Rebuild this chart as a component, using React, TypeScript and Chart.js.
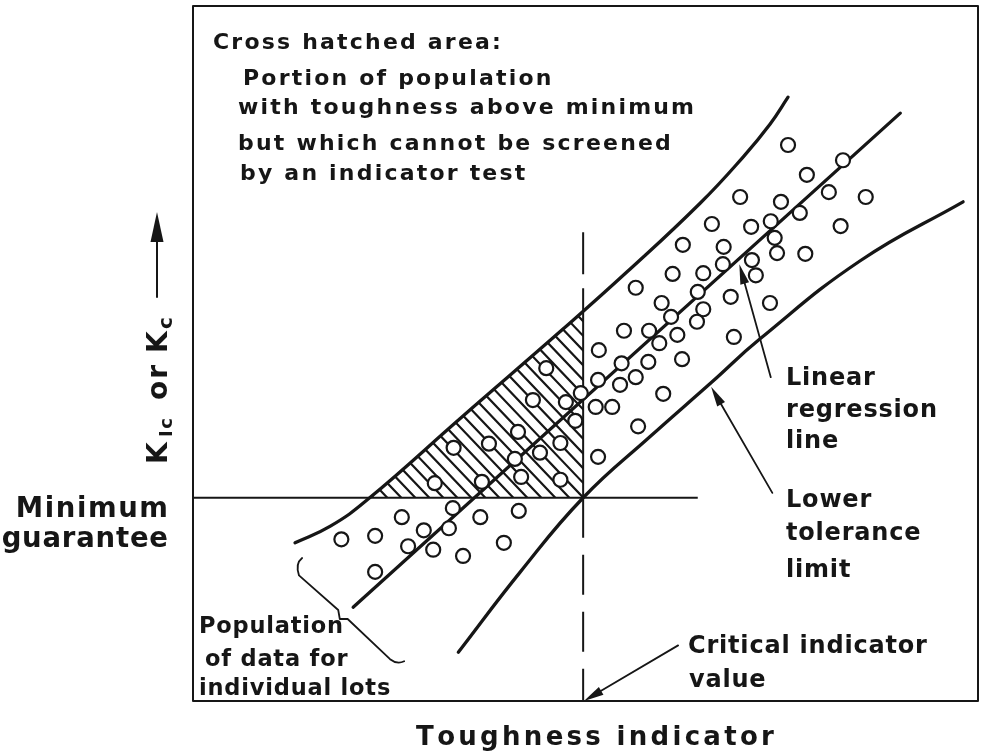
import React, { useEffect, useRef } from 'react';
import { Chart, registerables } from 'chart.js';

Chart.register(...registerables);

// ---- Data (normalised units: x = toughness indicator 0..100, y = K 0..100) ----
const POINT_X = [75.8, 82.8, 78.2, 81.0, 85.7, 69.7, 74.9, 77.3, 73.6, 71.1, 66.1, 82.5, 74.1, 74.4, 78.0, 62.4, 67.6, 67.5, 71.2, 71.7, 61.1, 65.0, 64.3, 56.4, 68.5, 73.5, 59.7, 60.9, 65.0, 64.2, 54.9, 58.1, 61.7, 59.4, 68.9, 51.7, 54.6, 58.0, 62.3, 51.6, 56.4, 54.4, 59.9, 49.4, 47.5, 51.3, 53.4, 48.7, 56.7, 46.8, 51.6, 45.0, 43.3, 41.4, 37.7, 33.2, 44.2, 41.0, 41.8, 46.8, 36.8, 30.8, 33.1, 36.6, 41.5, 26.6, 18.9, 23.2, 29.4, 32.6, 27.4, 30.6, 34.4, 39.6, 23.2];
const POINT_Y = [79.8, 77.6, 75.5, 73.0, 72.3, 72.3, 71.6, 70.0, 68.8, 68.0, 68.4, 68.1, 66.4, 64.2, 64.1, 65.4, 65.1, 62.6, 63.2, 61.0, 61.2, 61.3, 58.6, 59.2, 57.9, 57.0, 57.0, 55.0, 56.1, 54.3, 53.0, 53.0, 52.4, 51.2, 52.1, 50.2, 48.3, 48.5, 48.9, 45.9, 46.3, 45.2, 43.9, 44.0, 42.7, 42.0, 42.0, 40.0, 39.2, 36.8, 34.8, 47.6, 43.0, 38.4, 36.7, 36.1, 35.4, 34.5, 31.9, 31.5, 31.2, 31.0, 27.4, 26.1, 27.0, 26.1, 22.9, 23.4, 24.2, 24.5, 21.9, 21.4, 20.5, 22.4, 18.2];

const REG_X = [20.4, 90.1];
const REG_Y = [13.1, 84.4];

const UPPER_X = [13.0, 17.5, 22.2, 34.4, 47.1, 55.3, 64.6, 70.1, 73.5, 75.8];
const UPPER_Y = [22.4, 24.8, 28.6, 40.7, 53.2, 61.5, 71.4, 78.1, 82.8, 86.7];

const LOWER_X = [33.8, 41.7, 49.7, 58.2, 66.1, 72.2, 85.0, 98.1];
const LOWER_Y = [6.6, 18.2, 28.9, 37.7, 45.6, 51.8, 63.1, 71.6];

const CRITICAL_X = 49.7;
const CRITICAL_TOP_Y = 67.2;
const CRITICAL_HATCH_TOP_Y = 55.8;
const MINIMUM_Y = 28.9;
const MINIMUM_END_X = 64.3;

const X_RANGE = [0, 100];
const Y_RANGE = [-0.43, 99.86];

// annotation arrows (tail -> tip) in data units
const ARROW_REGRESSION = [73.6, 46.3, 69.6, 62.6];
const ARROW_LOWER = [73.8, 29.6, 66.0, 44.9];
const ARROW_CRITICAL = [61.8, 7.6, 49.8, -0.43];

// texts
const NOTE_LINES = ['Cross hatched area:', 'Portion of population', 'with toughness above minimum', 'but which cannot be screened', 'by an indicator test'];
const REG_LABEL = ['Linear', 'regression', 'line'];
const LOWER_LABEL = ['Lower', 'tolerance', 'limit'];
const CRIT_LABEL = ['Critical indicator', 'value'];
const POP_LABEL = ['Population', 'of data for', 'individual lots'];
const MIN_LABEL = ['Minimum', 'guarantee'];
const X_TITLE = 'Toughness indicator';

const INK = '#161616';
const FONT = '"DejaVu Sans", "Liberation Sans", Arial, sans-serif';

function spaced(ctx: CanvasRenderingContext2D, text: string, x: number, y: number, size: number, spacing: number, align: 'left' | 'right' | 'center' = 'left') {
  ctx.font = `bold ${size}px ${FONT}`;
  ctx.textAlign = 'left';
  ctx.textBaseline = 'alphabetic';
  const chars = Array.from(text);
  const ws = chars.map((c) => ctx.measureText(c).width);
  const total = ws.reduce((a, b) => a + b, 0) + spacing * (chars.length - 1);
  let cx = align === 'right' ? x - total : align === 'center' ? x - total / 2 : x;
  chars.forEach((c, i) => {
    ctx.fillText(c, cx, y);
    cx += ws[i] + spacing;
  });
  return total;
}

function arrow(ctx: CanvasRenderingContext2D, x1: number, y1: number, x2: number, y2: number, len: number, half: number, lw: number) {
  const dx = x2 - x1, dy = y2 - y1;
  const d = Math.hypot(dx, dy);
  const ux = dx / d, uy = dy / d;
  const bx = x2 - ux * len, by = y2 - uy * len;
  ctx.lineWidth = lw;
  ctx.beginPath();
  ctx.moveTo(x1, y1);
  ctx.lineTo(bx + ux * 2, by + uy * 2);
  ctx.stroke();
  ctx.beginPath();
  ctx.moveTo(x2, y2);
  ctx.lineTo(bx - uy * half, by + ux * half);
  ctx.lineTo(bx + uy * half, by - ux * half);
  ctx.closePath();
  ctx.fill();
}

const xy = (xs: number[], ys: number[]) => xs.map((x, i) => ({ x, y: ys[i] }));

export default function App() {
  const ref = useRef<HTMLCanvasElement>(null);

  useEffect(() => {
    const canvas = ref.current;
    if (!canvas) return;

    const hatchPlugin = {
      id: 'hatch',
      beforeDatasetsDraw(chart: any) {
        const { ctx, chartArea, scales } = chart;
        const meta = chart.getDatasetMeta(2);
        const line = meta.dataset;
        const pts = meta.data;
        const cx = scales.x.getPixelForValue(CRITICAL_X);
        const my = scales.y.getPixelForValue(MINIMUM_Y);
        ctx.save();
        ctx.beginPath();
        if (line && typeof line.path === 'function') {
          if (typeof line.updateControlPoints === 'function') line.updateControlPoints(chartArea, 'x');
          line.path(ctx);
        } else {
          pts.forEach((p: any, i: number) => (i ? ctx.lineTo(p.x, p.y) : ctx.moveTo(p.x, p.y)));
        }
        const first = pts[0], last = pts[pts.length - 1];
        ctx.lineTo(last.x, chartArea.bottom + 50);
        ctx.lineTo(first.x, chartArea.bottom + 50);
        ctx.closePath();
        ctx.clip();
        ctx.beginPath();
        ctx.rect(chartArea.left, chartArea.top, cx - chartArea.left, my - chartArea.top);
        ctx.clip();
        ctx.strokeStyle = INK;
        ctx.lineWidth = 2.2;
        ctx.beginPath();
        const H = chartArea.bottom - chartArea.top;
        const slope = 1.05;
        for (let k = -H * 1.2; k < chartArea.right; k += 14) {
          ctx.moveTo(chartArea.left + k, chartArea.top);
          ctx.lineTo(chartArea.left + k + H, chartArea.top + H * slope);
        }
        ctx.stroke();
        ctx.restore();
      },
    };

    const annotPlugin = {
      id: 'annot',
      afterDraw(chart: any) {
        const { ctx, chartArea, scales } = chart;
        const X = (v: number) => scales.x.getPixelForValue(v);
        const Y = (v: number) => scales.y.getPixelForValue(v);
        ctx.save();
        ctx.strokeStyle = INK;
        ctx.fillStyle = INK;
        ctx.lineCap = 'round';
        ctx.lineJoin = 'round';

        // frame
        ctx.lineWidth = 2;
        ctx.strokeRect(chartArea.left, chartArea.top, chartArea.right - chartArea.left, chartArea.bottom - chartArea.top);

        // arrows
        const drawArr = (a: number[], len: number, half: number) => arrow(ctx, X(a[0]), Y(a[1]), X(a[2]), Y(a[3]), len, half, 1.8);
        drawArr(ARROW_REGRESSION, 20, 4.5);
        drawArr(ARROW_LOWER, 20, 4.5);
        drawArr(ARROW_CRITICAL, 20, 4.5);

        // brace for "Population of data"
        ctx.lineWidth = 1.8;
        ctx.beginPath();
        ctx.moveTo(X(13.9), Y(20.2));
        ctx.quadraticCurveTo(X(13.0), Y(19.4), X(13.5), Y(17.7));
        ctx.lineTo(X(18.5), Y(12.7));
        ctx.lineTo(X(18.7), Y(11.4));
        ctx.lineTo(X(19.7), Y(11.4));
        ctx.lineTo(X(25.1), Y(5.6));
        ctx.quadraticCurveTo(X(26.0), Y(4.8), X(26.9), Y(5.3));
        ctx.stroke();

        // texts in plot
        const noteX = [213, 243, 238, 238, 240];
        const noteY = [49, 85, 114, 150, 180];
        NOTE_LINES.forEach((t, i) => spaced(ctx, t, noteX[i], noteY[i], 22, 2.2));
        [385, 417, 448].forEach((yy, i) => spaced(ctx, REG_LABEL[i], 786, yy, 24, 0.8));
        [507, 540, 577].forEach((yy, i) => spaced(ctx, LOWER_LABEL[i], 786, yy, 24, 0.8));
        spaced(ctx, CRIT_LABEL[0], 688, 653, 24, 0.8);
        spaced(ctx, CRIT_LABEL[1], 689, 687, 24, 0.8);
        const popX = [199, 205, 199];
        [633, 666, 695].forEach((yy, i) => spaced(ctx, POP_LABEL[i], popX[i], yy, 22.5, 0.8));

        // outside texts
        spaced(ctx, MIN_LABEL[0], 168, 517, 27.5, 1.6, 'right');
        spaced(ctx, MIN_LABEL[1], 168, 547, 27.5, 0.8, 'right');
        spaced(ctx, X_TITLE, 595, 745, 26, 3.3, 'center');

        // y-axis label (rotated)
        ctx.save();
        ctx.translate(167, 464);
        ctx.rotate(-Math.PI / 2);
        spaced(ctx, 'K', 0, 0, 28, 0);
        spaced(ctx, 'Ic', 27, 5, 18, 1.5);
        spaced(ctx, 'or', 64, 0, 28, 2);
        spaced(ctx, 'K', 111, 0, 28, 0);
        spaced(ctx, 'c', 135, 5, 20, 0);
        ctx.restore();
        arrow(ctx, 157, 297, 157, 212, 30, 6.5, 2);

        ctx.restore();
      },
    };

    const lineDs = (label: string, data: any[], extra: any = {}) => ({
      label,
      data,
      showLine: true,
      pointRadius: 0,
      pointHoverRadius: 0,
      borderColor: INK,
      backgroundColor: INK,
      fill: false,
      borderWidth: 3.3,
      borderCapStyle: 'round',
      order: 1,
      ...extra,
    });

    const chart = new Chart(canvas, {
      type: 'scatter',
      data: {
        datasets: [
          {
            label: 'Individual lots',
            data: xy(POINT_X, POINT_Y),
            pointRadius: 7,
            pointHoverRadius: 7,
            pointBorderWidth: 2.2,
            borderWidth: 2.2,
            borderColor: INK,
            backgroundColor: '#ffffff',
            showLine: false,
            order: 0,
          } as any,
          lineDs('Linear regression line', xy(REG_X, REG_Y)),
          lineDs('Upper limit', xy(UPPER_X, UPPER_Y), { tension: 0.45 }),
          lineDs('Lower tolerance limit', xy(LOWER_X, LOWER_Y), { tension: 0.45 }),
          lineDs('Minimum guarantee', [{ x: X_RANGE[0], y: MINIMUM_Y }, { x: MINIMUM_END_X, y: MINIMUM_Y }], { borderWidth: 2, borderCapStyle: 'butt' }),
          lineDs('Critical (upper)', [{ x: CRITICAL_X, y: CRITICAL_TOP_Y }, { x: CRITICAL_X, y: CRITICAL_HATCH_TOP_Y }], { borderWidth: 2, borderDash: [42, 14], borderCapStyle: 'butt' }),
          lineDs('Critical (hatch edge)', [{ x: CRITICAL_X, y: CRITICAL_HATCH_TOP_Y }, { x: CRITICAL_X, y: MINIMUM_Y }], { borderWidth: 2, borderCapStyle: 'butt' }),
          lineDs('Critical (lower)', [{ x: CRITICAL_X, y: MINIMUM_Y }, { x: CRITICAL_X, y: Y_RANGE[0] }], { borderWidth: 2, borderDash: [40, 17], borderCapStyle: 'butt' }),
        ],
      },
      options: {
        responsive: false,
        animation: false,
        events: [],
        devicePixelRatio: 1,
        layout: { autoPadding: false, padding: { left: 193, top: 6, right: 3, bottom: 54 } },
        scales: {
          x: { type: 'linear', min: X_RANGE[0], max: X_RANGE[1], display: false },
          y: { type: 'linear', min: Y_RANGE[0], max: Y_RANGE[1], display: false },
        },
        plugins: { legend: { display: false }, tooltip: { enabled: false } },
      } as any,
      plugins: [hatchPlugin, annotPlugin],
    });

    return () => chart.destroy();
  }, []);

  return (
    <div style={{ position: 'fixed', left: 0, top: 0, width: 981, height: 755, background: '#ffffff' }}>
      <canvas ref={ref} width={981} height={755} style={{ display: 'block', width: 981, height: 755 }} />
    </div>
  );
}
